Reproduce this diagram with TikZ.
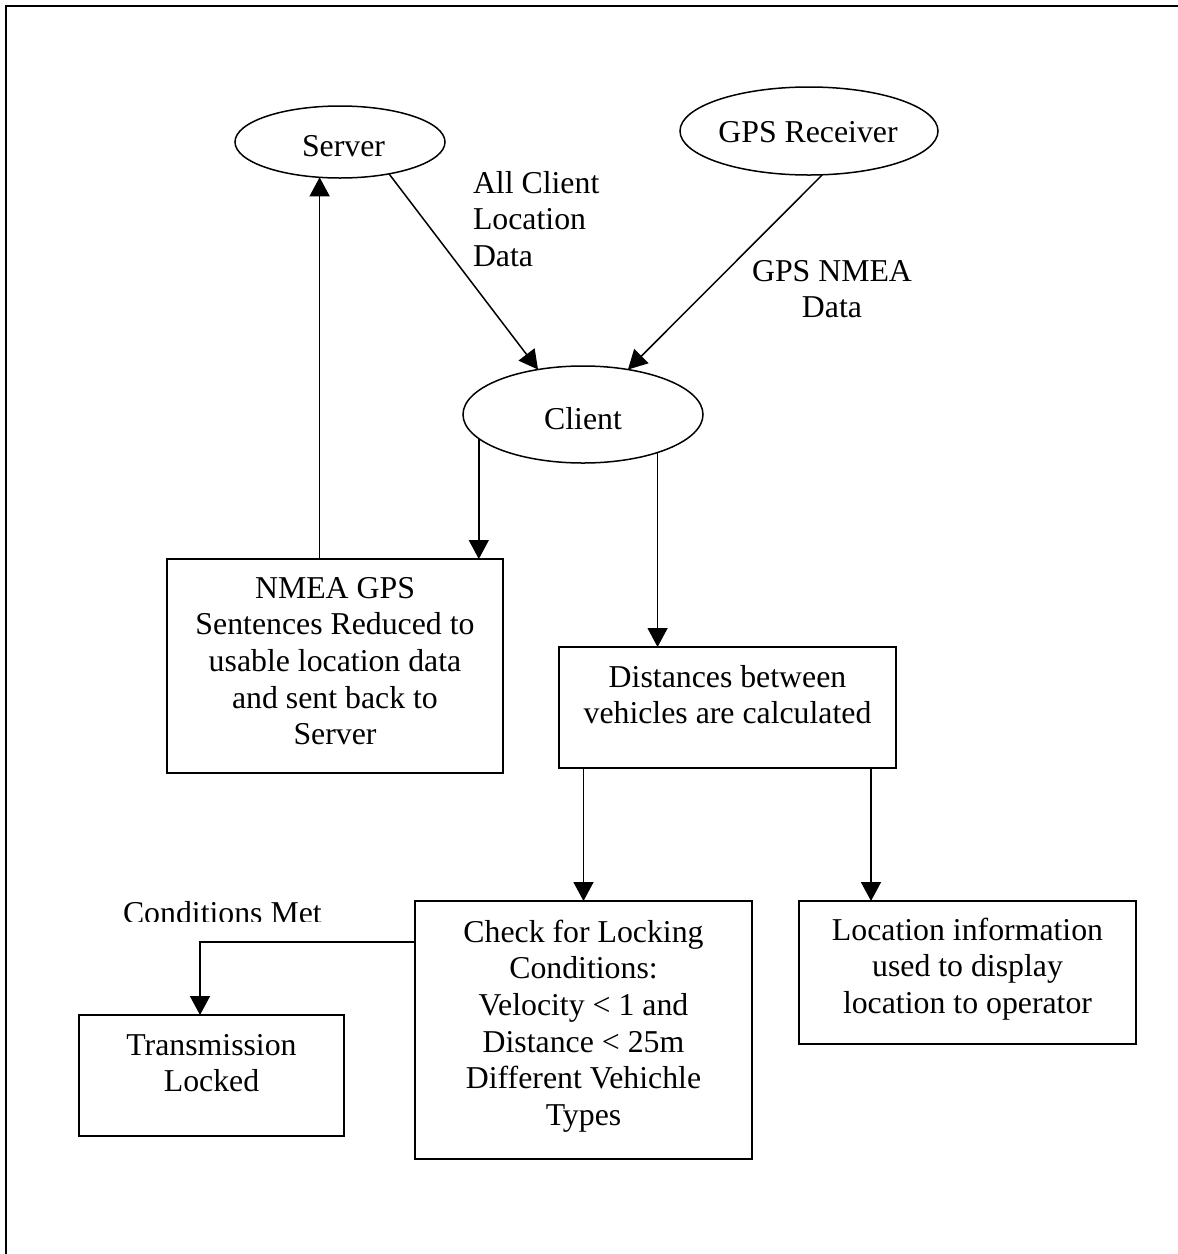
\documentclass[tikz,border=0pt]{standalone}
\usepackage{fontspec}
\setmainfont{Liberation Serif}
\usetikzlibrary{arrows.meta,shapes.geometric,calc}
\begin{document}
\begin{tikzpicture}[x=1pt,y=-1pt,
  every node/.style={inner sep=0pt,outer sep=0pt},
  boxnode/.style={draw,rectangle,line width=1.5pt},
  ellnode/.style={draw,ellipse,line width=1.5pt},
  txt/.style={anchor=base,font=\fontsize{31.8}{36.7}\selectfont},
  arr/.style={line width=1.5pt,-{Triangle[length=19pt,width=20pt]}},
  frame/.style={line width=2pt}]
\useasboundingbox (0,0) rectangle (1178,1254);
\draw[frame] (6,1254) -- (6,6) -- (1178,6);
% ellipses
\node[ellnode,minimum width=210pt,minimum height=72pt] (server) at (340,142) {};
\node[ellnode,minimum width=258pt,minimum height=88pt] (gps) at (809,131) {};
\node[ellnode,minimum width=240pt,minimum height=97pt] (client) at (583,414.5) {};
\node[txt] (servertxt) at (343.5,156) {Server};
\node[txt] (gpstxt) at (808,142) {GPS Receiver};
\node[txt] (clienttxt) at (583,429) {Client};
% boxes
\node[boxnode,minimum width=336pt,minimum height=214pt] (nmea) at (335,666) {};
\node[boxnode,minimum width=337pt,minimum height=121pt] (dist) at (727.5,707.5) {};
\node[boxnode,minimum width=337pt,minimum height=258pt] (check) at (583.5,1030) {};
\node[boxnode,minimum width=337pt,minimum height=143pt] (loc) at (967.5,972.5) {};
\node[boxnode,minimum width=265pt,minimum height=121pt] (trans) at (211.5,1075.5) {};
\node[txt] (nmeatxt) at (335,598) {\begin{tabular}[t]{@{}c@{}}NMEA GPS\\Sentences Reduced to\\usable location data\\and sent back to\\Server\end{tabular}};
\node[txt] (disttxt) at (727.5,687) {\begin{tabular}[t]{@{}c@{}}Distances between\\vehicles are calculated\end{tabular}};
\node[txt] (checktxt) at (583.5,942) {\begin{tabular}[t]{@{}c@{}}Check for Locking\\Conditions:\\Velocity < 1 and\\Distance < 25m\\Different Vehichle\\Types\end{tabular}};
\node[txt] (loctxt) at (967.5,940) {\begin{tabular}[t]{@{}c@{}}Location information\\used to display\\location to operator\end{tabular}};
\node[txt] (transtxt) at (211.5,1055) {\begin{tabular}[t]{@{}c@{}}Transmission\\Locked\end{tabular}};
% labels
\node[txt,anchor=base west] (lblall) at (473,193) {\begin{tabular}[t]{@{}l@{}}All Client\\Location\\Data\end{tabular}};
\node[txt] (lblgps) at (832,281) {\begin{tabular}[t]{@{}c@{}}GPS NMEA\\Data\end{tabular}};
\begin{scope}
\clip (100,880) rectangle (400,921);
\node[txt,anchor=base west] (lblcond) at (123,923) {Conditions Met};
\end{scope}
% connectors
\draw[arr] (server.-33.4) -- (client.135);
\draw[arr] (gps.-73.5) -- (client.45);
\draw[arr] (server.-120.7 |- nmea.north) -- (server.-120.7);
\draw[arr] (client.-167.9) -- (client.-167.9 |- nmea.north);
\draw[arr] (client.-27.8) -- (client.-27.8 |- dist.north);
\draw[arr] (check.north |- dist.south) -- (check.north);
\coordinate (dr) at ($(dist.south east)+(-25,0)$);
\draw[arr] (dr) -- (dr |- loc.north);
\coordinate (cl) at ($(check.north west)+(0,41)$);
\coordinate (tt) at ($(trans.north west)+(121,0)$);
\draw[arr] (cl) -| (tt);
\end{tikzpicture}
\end{document}
